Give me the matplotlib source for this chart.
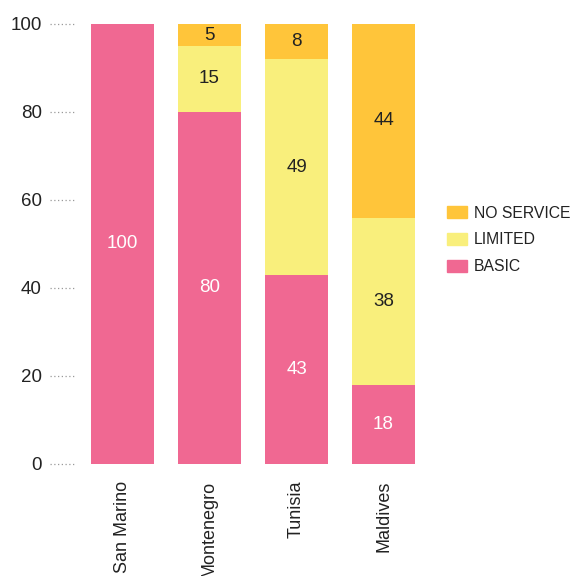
import matplotlib
matplotlib.use("Agg")
import matplotlib.pyplot as plt
import matplotlib.transforms as mtransforms
from matplotlib.patches import Patch

countries = ["San Marino", "Montenegro", "Tunisia", "Maldives"]
basic = [100, 80, 43, 18]
limited = [0, 15, 49, 38]
no_service = [0, 5, 8, 44]
y_ticks = [0, 20, 40, 60, 80, 100]

PINK = "#F06892"
YELLOW = "#F9EF7C"
ORANGE = "#FFC53A"
TEXT = "#222222"

plt.rcParams["font.family"] = ["Liberation Sans", "DejaVu Sans"]

W, H = 572, 576
fig = plt.figure(figsize=(W / 100, H / 100), dpi=100)
ax = fig.add_axes([78 / W, (H - 464) / H, 350 / W, 440 / H])

x = list(range(len(countries)))
width = 0.724
series = [
    (basic, PINK, "white"),
    (limited, YELLOW, TEXT),
    (no_service, ORANGE, TEXT),
]
bottom = [0] * len(countries)
for vals, col, tcol in series:
    ax.bar(x, vals, width, bottom=bottom, color=col, linewidth=0)
    for i, v in enumerate(vals):
        if v > 0:
            ax.text(i, bottom[i] + v / 2, str(v), ha="center", va="center",
                    color=tcol, fontsize=13.5)
    bottom = [b + v for b, v in zip(bottom, vals)]

ax.set_xlim(-0.511, 3.511)
ax.set_ylim(0, 100)
for s in ax.spines.values():
    s.set_visible(False)

ax.set_yticks(y_ticks)
ax.set_yticklabels([str(t) for t in y_ticks], fontsize=13.5, color=TEXT)
ax.tick_params(axis="y", length=0, pad=26)
trans = mtransforms.blended_transform_factory(ax.transAxes, ax.transData)
for t in y_ticks:
    ax.plot([-28 / 350, -3 / 350], [t, t], transform=trans, clip_on=False,
            color="#999999", lw=0.9, linestyle=(0, (1, 2)))

ax.set_xticks(x)
ax.set_xticklabels(countries, rotation=90, fontsize=13, color=TEXT,
                   va="top", ha="center")
ax.tick_params(axis="x", length=0, pad=12)

handles = [Patch(color=ORANGE), Patch(color=YELLOW), Patch(color=PINK)]
labels = ["NO SERVICE", "LIMITED", "BASIC"]
leg = fig.legend(handles, labels, loc="center left",
                 bbox_to_anchor=(441 / W, (H - 240) / H), frameon=False,
                 fontsize=11.3, handlelength=1.28, handleheight=0.76,
                 handletextpad=0.4, labelspacing=0.75, borderaxespad=0)
for t in leg.get_texts():
    t.set_color(TEXT)

fig.savefig("out.png", dpi=100)
